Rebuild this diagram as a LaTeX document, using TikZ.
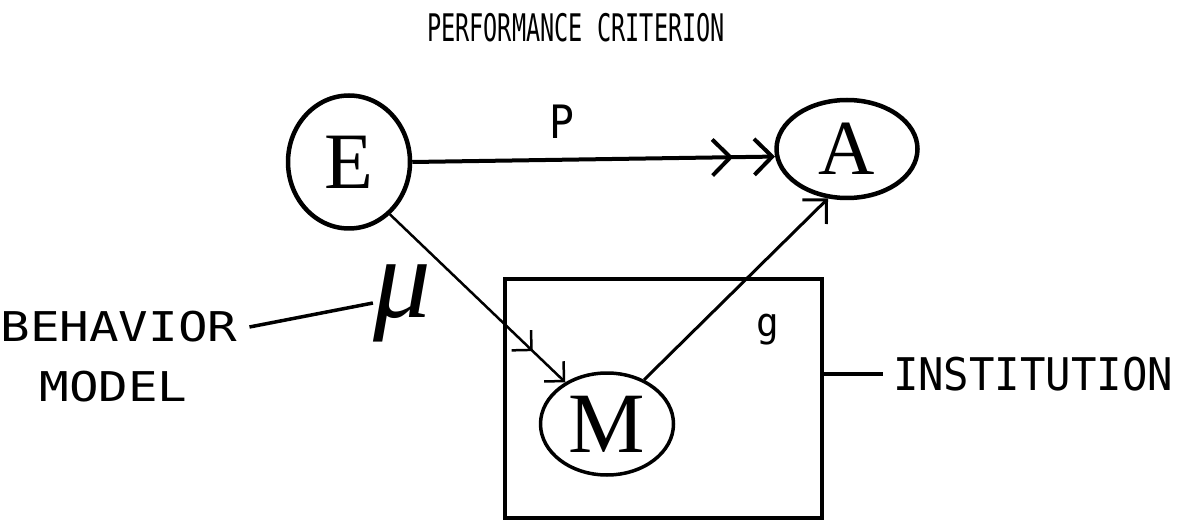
\documentclass[tikz,border=0pt]{standalone}
\usepackage{fontspec}
\usetikzlibrary{shapes.geometric, arrows.meta, positioning}

\newfontfamily\serifletter{Liberation Serif}
\newfontfamily\titlefont[FakeStretch=0.62]{DejaVu Sans Mono}
\newfontfamily\instfont[FakeStretch=0.94]{DejaVu Sans Mono}
\newfontfamily\behavfont[FakeStretch=1.2]{DejaVu Sans Mono}
\newfontfamily\pfont[FakeStretch=0.9]{DejaVu Sans Mono}

\begin{document}
\begin{tikzpicture}[x=1pt, y=-1pt,
    circ/.style={draw, ellipse, line width=4.5pt, inner sep=0pt},
    lbl/.style={inner sep=0pt},
    dblbig/.style={-{Straight Barb[length=18pt,width=36pt,sep=19pt]Straight Barb[length=18pt,width=36pt]}},
    dblsmall/.style={-{Straight Barb[length=14pt,width=28pt,sep=28pt]Straight Barb[length=14pt,width=28pt]}},
    single/.style={-{Straight Barb[length=17pt,width=34pt]}}]
    \useasboundingbox (0,0) rectangle (1193,526);

    % institution box
    \node[draw, line width=3.5pt, inner sep=0pt, minimum width=317pt, minimum height=239pt] (inst) at (663.5,398.5) {};

    \node[circ, minimum width=122pt, minimum height=133pt, font=\serifletter\fontsize{80}{90}\selectfont] (E) at (349,162) {E};
    \node[circ, minimum width=141pt, minimum height=98pt, font=\serifletter\fontsize{78}{88}\selectfont] (A) at (847,149) {A};
    \node[circ, line width=3.5pt, minimum width=133pt, minimum height=102pt, font=\serifletter\fontsize{86}{96}\selectfont] (M) at (607,424) {M};

    \node[lbl, font=\titlefont\fontsize{38}{40}\selectfont] (title) at (576,28) {PERFORMANCE CRITERION};
    \node[lbl, font=\instfont\fontsize{40}{44}\selectfont] (g) at (768,330) {g};
    \node[lbl, outer xsep=10pt, anchor=west, font=\instfont\fontsize{45}{50}\selectfont] (instlbl) at (883,374) {INSTITUTION};

    \node[lbl, outer xsep=12pt, font=\behavfont\fontsize{41}{45}\selectfont] (behav) at (119,327) {BEHAVIOR};
    \node[lbl, font=\behavfont\fontsize{41}{45}\selectfont] (model) at (113.5,387) {MODEL};
    \node[lbl, font=\serifletter\itshape\fontsize{115}{120}\selectfont] (mu) at (402,303) {μ};

    % arrows
    \draw[dblbig, line width=4pt] (E.east) -- node[lbl, pos=0.414, above=19pt, font=\pfont\fontsize{46}{50}\selectfont] (plbl) {P} (A.186);
    \draw[dblsmall, line width=2.5pt] (E.308) -- (M.135);
    \draw[single, line width=3pt] (M.50) -- (A.249);

    \draw[line width=3.5pt] (behav.east) -- (mu.west);
    \draw[line width=3.5pt] (inst.east |- instlbl.west) -- (instlbl.west);
\end{tikzpicture}
\end{document}
